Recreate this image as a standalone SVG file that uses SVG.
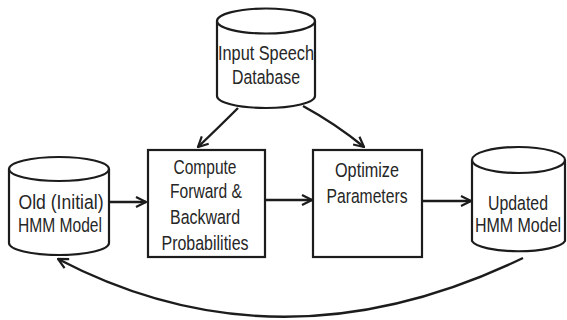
<svg xmlns="http://www.w3.org/2000/svg" width="567" height="320" viewBox="0 0 567 320">
  <defs>
    <marker id="arrow" viewBox="0 0 12 12" refX="11" refY="6" markerWidth="12" markerHeight="12" markerUnits="userSpaceOnUse" orient="auto">
      <path d="M1,1 L11,6 L1,11" fill="none" stroke="#1c1c1c" stroke-width="2.2" stroke-linejoin="miter"/>
    </marker>
    <style>
      .shape { fill: #ffffff; stroke: #1c1c1c; stroke-width: 2.2; }
      .edge { fill: none; stroke: #1c1c1c; stroke-width: 2.4; marker-end: url(#arrow); }
      .label { font-family: "Liberation Sans", Arial, sans-serif; font-size: 20.5px; fill: #262626; text-anchor: middle; }
    </style>
  </defs>

  <rect width="567" height="320" fill="#ffffff"/>

  <!-- connectors -->
  <g id="connectors">
    <path class="edge" d="M238,108 Q220,126 198,147"/>
    <path class="edge" d="M303,106 Q336,124 364,147"/>
    <line class="edge" x1="109" y1="202" x2="146" y2="202"/>
    <line class="edge" x1="265" y1="200" x2="312" y2="200"/>
    <line class="edge" x1="423" y1="201" x2="471" y2="201"/>
    <path class="edge" d="M523,258 Q280,375 58,259"/>
  </g>

  <!-- database: speech input -->
  <g id="input-speech-database">
    <path class="shape" d="M217,21 L217,96 A49,12 0 0 0 315,96 L315,21"/>
    <ellipse class="shape" cx="266" cy="21" rx="49" ry="12.5"/>
    <text class="label" x="266" y="60" textLength="96" lengthAdjust="spacingAndGlyphs">Input Speech</text>
    <text class="label" x="266" y="84" textLength="68" lengthAdjust="spacingAndGlyphs">Database</text>
  </g>

  <!-- database: initial model -->
  <g id="old-hmm-model">
    <path class="shape" d="M9,169 L9,243 A50,12 0 0 0 109,243 L109,169"/>
    <ellipse class="shape" cx="59" cy="169" rx="50" ry="12"/>
    <text class="label" x="61" y="209" textLength="85" lengthAdjust="spacingAndGlyphs">Old (Initial)</text>
    <text class="label" x="60" y="232" textLength="84" lengthAdjust="spacingAndGlyphs">HMM Model</text>
  </g>

  <!-- process: forward / backward pass -->
  <g id="compute-probabilities">
    <rect class="shape" x="148" y="150" width="117" height="107"/>
    <text class="label" x="205" y="174" textLength="63" lengthAdjust="spacingAndGlyphs">Compute</text>
    <text class="label" x="206" y="198" textLength="72" lengthAdjust="spacingAndGlyphs">Forward &amp;</text>
    <text class="label" x="205" y="224" textLength="70" lengthAdjust="spacingAndGlyphs">Backward</text>
    <text class="label" x="205" y="250" textLength="87" lengthAdjust="spacingAndGlyphs">Probabilities</text>
  </g>

  <!-- process: re-estimation -->
  <g id="optimize-parameters">
    <rect class="shape" x="313" y="150" width="109" height="107"/>
    <text class="label" x="367" y="177" textLength="64" lengthAdjust="spacingAndGlyphs">Optimize</text>
    <text class="label" x="367" y="203" textLength="81" lengthAdjust="spacingAndGlyphs">Parameters</text>
  </g>

  <!-- database: updated model -->
  <g id="updated-hmm-model">
    <path class="shape" d="M472,160 L472,241 A47,12 0 0 0 565,241 L565,160"/>
    <ellipse class="shape" cx="518.5" cy="160" rx="46.5" ry="13"/>
    <text class="label" x="518" y="210" textLength="60" lengthAdjust="spacingAndGlyphs">Updated</text>
    <!-- horizontally condensed to fit inside the cylinder -->
    <text class="label" transform="translate(518,232) scale(0.78,1)" x="0" y="0">HMM Model</text>
  </g>
</svg>
